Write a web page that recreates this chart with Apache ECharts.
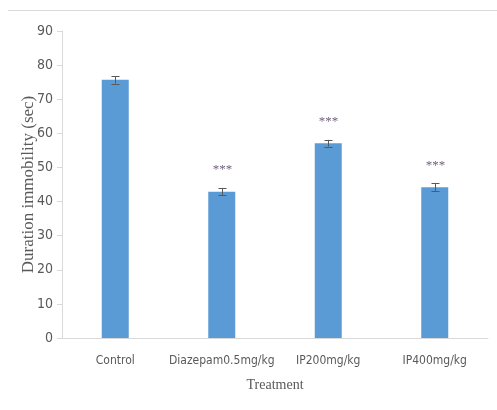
<!DOCTYPE html>
<html><head><meta charset="utf-8">
<script src="https://cdn.jsdelivr.net/npm/echarts@6/dist/echarts.min.js"></script>
<style>html,body{margin:0;padding:0;background:#fff}#c{width:497px;height:410px}</style>
</head><body><div id="c"></div>
<script>
var categories = ['Control', 'Diazepam0.5mg/kg', 'IP200mg/kg', 'IP400mg/kg'];
var meanValues = [75.7, 42.9, 57.1, 44.2];
var errorValues = [1.1, 1.1, 1.0, 1.1];
var significance = ['', '***', '***', '***'];
var yTicks = [0, 10, 20, 30, 40, 50, 60, 70, 80, 90];

var tickFont = '"DejaVu Sans Condensed","Liberation Sans Narrow","Liberation Sans",sans-serif';
var serifFont = '"Liberation Serif","DejaVu Serif",serif';

var chart = echarts.init(document.getElementById('c'), null, {renderer: 'canvas'});
var errData = categories.map(function (c, i) { return [i, meanValues[i], errorValues[i], significance[i]]; });

chart.setOption({
  animation: false,
  graphic: [{
    type: 'line', shape: {x1: 8, y1: 10.5, x2: 497, y2: 10.5},
    style: {stroke: '#d9d9d9', lineWidth: 1}
  }],
  grid: {left: 62, right: 9, top: 31, bottom: 72, containLabel: false},
  xAxis: {
    type: 'category', data: categories,
    axisLine: {lineStyle: {color: '#d9d9d9', width: 1}},
    axisTick: {show: false},
    axisLabel: {color: '#595959', fontFamily: tickFont, fontSize: 12, margin: 17, interval: 0},
    name: 'Treatment', nameLocation: 'middle', nameGap: 40, nameMoveOverlap: false,
    nameTextStyle: {color: '#595959', fontFamily: serifFont, fontSize: 14}
  },
  yAxis: {
    type: 'value', min: 0, max: 90, interval: 10,
    axisLine: {show: true, lineStyle: {color: '#d9d9d9', width: 1}},
    axisTick: {show: true, length: 5, lineStyle: {color: '#d9d9d9'}},
    splitLine: {show: false},
    axisLabel: {color: '#595959', fontFamily: tickFont, fontSize: 14, margin: 9,
      formatter: function (v) { return yTicks.indexOf(v) >= 0 ? String(v) : ''; }},
    name: 'Duration immobility (sec)', nameLocation: 'middle', nameGap: 25, nameMoveOverlap: false,
    nameTextStyle: {color: '#595959', fontFamily: serifFont, fontSize: 17}
  },
  series: [{
    type: 'bar', data: meanValues, barWidth: 27,
    itemStyle: {color: '#5b9bd5'}
  }, {
    type: 'custom', data: errData, z: 10,
    renderItem: function (params, api) {
      var i = api.value(0), m = api.value(1), e = api.value(2);
      var top = api.coord([i, m + e]);
      var bot = api.coord([i, m - e]);
      var x = Math.round(top[0]) + 0.5;
      var hw = 4;
      var children = [
        {type: 'line', shape: {x1: x, y1: top[1], x2: x, y2: bot[1]}, style: {stroke: '#595959', lineWidth: 1}},
        {type: 'line', shape: {x1: x - hw, y1: Math.round(top[1]) + 0.5, x2: x + hw, y2: Math.round(top[1]) + 0.5}, style: {stroke: '#595959', lineWidth: 1}},
        {type: 'line', shape: {x1: x - hw, y1: Math.round(bot[1]) + 0.5, x2: x + hw, y2: Math.round(bot[1]) + 0.5}, style: {stroke: '#595959', lineWidth: 1}}
      ];
      var sig = significance[i];
      if (sig) {
        children.push({type: 'text', x: x, y: top[1] - 18,
          style: {text: sig, fill: '#6e5f7e', font: '13px ' + serifFont, align: 'center', verticalAlign: 'middle'}});
      }
      return {type: 'group', children: children};
    }
  }]
});
</script></body></html>
